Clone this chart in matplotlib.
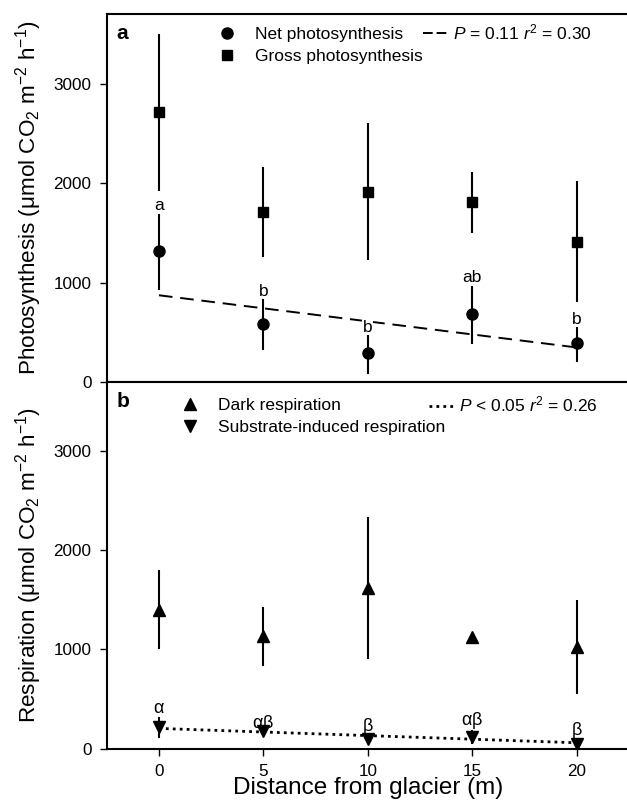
import matplotlib
matplotlib.use("Agg")
from matplotlib import pyplot as plt
from matplotlib.lines import Line2D
import numpy as np

plt.rcParams['font.family'] = ['Liberation Sans', 'DejaVu Sans']
plt.rcParams['mathtext.fontset'] = 'custom'
plt.rcParams['mathtext.rm'] = 'Liberation Sans'
plt.rcParams['mathtext.it'] = 'Liberation Sans:italic'
plt.rcParams['mathtext.default'] = 'regular'

# distance from glacier (m)
dist = [0, 5, 10, 15, 20]

# panel a: photosynthesis
net_ps = [1316, 586, 296, 684, 397]
net_ps_err = [390, 260, 215, 300, 195]
gross_ps = [2710, 1710, 1912, 1805, 1411]
gross_ps_err = [785, 450, 690, 303, 608]
net_letters = ['a', 'b', 'b', 'ab', 'b']
net_letter_y = [1770, 912, 552, 1047, 633]
ps_fit_x = [0, 20]
ps_fit_y = [872, 347]

# panel b: respiration
dark_resp = [1402, 1133, 1623, 1126, 1025]
dark_resp_err = [400, 300, 715, 30, 470]
sir = [213, 180, 92, 119, 45]
sir_err = [110, 40, 20, 70, 20]
sir_letters = [r'$\alpha$', r'$\alpha\beta$', r'$\beta$', r'$\alpha\beta$', r'$\beta$']
sir_letter_y = [405, 254, 220, 287, 179]
resp_fit_x = [0, 20]
resp_fit_y = [203, 58]

fig = plt.figure(figsize=(6.27, 8.10), dpi=100)
ax1 = fig.add_axes([0.1702, 0.5284, 0.833, 0.4543])
ax2 = fig.add_axes([0.1702, 0.0759, 0.833, 0.4525])

eb = dict(color='black', ecolor='black', elinewidth=1.5, capsize=0, linestyle='none')

# ---- panel a ----
ax1.plot(ps_fit_x, ps_fit_y, color='black', lw=1.4, dashes=(7, 4))
ax1.errorbar(dist, gross_ps, yerr=gross_ps_err, marker='s', ms=7, **eb)
ax1.errorbar(dist, net_ps, yerr=net_ps_err, marker='o', ms=8, **eb)
for x, y, t in zip(dist, net_letter_y, net_letters):
    ax1.text(x, y, t, ha='center', va='center', fontsize=12.5,
             bbox=dict(facecolor='white', edgecolor='none', pad=0.5))

# ---- panel b ----
ax2.plot(resp_fit_x, resp_fit_y, color='black', lw=2, linestyle=(0, (1, 1.5)))
ax2.errorbar(dist, dark_resp, yerr=dark_resp_err, marker='^', ms=8.5, **eb)
ax2.errorbar(dist, sir, yerr=sir_err, marker='v', ms=8.5, **eb)
for x, y, t in zip(dist, sir_letter_y, sir_letters):
    ax2.text(x, y, t, ha='center', va='center', fontsize=13,
             math_fontfamily='stix')

for ax in (ax1, ax2):
    ax.set_xlim(-2.5, 22.5)
    ax.set_ylim(0, 3700)
    ax.set_yticks([0, 1000, 2000, 3000])
    ax.tick_params(axis='both', direction='out', length=5, width=1, labelsize=12.3)
    ax.tick_params(axis='y', pad=6)
    for s in ax.spines.values():
        s.set_linewidth(1.5)

ax1.set_xticks([])
ax2.set_xticks(dist)
ax2.tick_params(axis='x', pad=6)

ax1.set_ylabel(r'Photosynthesis ($\mu$mol CO$_2$ m$^{-2}$ h$^{-1}$)', fontsize=16.2)
ax2.set_ylabel(r'Respiration ($\mu$mol CO$_2$ m$^{-2}$ h$^{-1}$)', fontsize=16.2)
ax1.yaxis.set_label_coords(-0.12, 0.5)
ax2.yaxis.set_label_coords(-0.12, 0.5)
ax2.set_xlabel('Distance from glacier (m)', fontsize=17.5, labelpad=-1)

ax1.text(0.018, 0.948, 'a', transform=ax1.transAxes, fontsize=15, fontweight='bold', va='center')
ax2.text(0.018, 0.948, 'b', transform=ax2.transAxes, fontsize=15, fontweight='bold', va='center')

# legends
h_net = Line2D([], [], color='black', marker='o', ms=8, linestyle='none')
h_gross = Line2D([], [], color='black', marker='s', ms=7, linestyle='none')
leg1 = ax1.legend([h_net, h_gross], ['Net photosynthesis', 'Gross photosynthesis'],
                  loc='upper left', bbox_to_anchor=(0.20, 0.985), frameon=False,
                  fontsize=12.5, handlelength=1.0, handletextpad=1.1, labelspacing=0.4,
                  borderaxespad=0)
ax1.add_artist(leg1)
h_dash = Line2D([], [], color='black', lw=1.4, dashes=(5, 2))
ax1.legend([h_dash], [r'$\mathit{P}$ = 0.11 $\mathit{r}^2$ = 0.30'], loc='upper left',
           bbox_to_anchor=(0.592, 0.996), frameon=False, fontsize=12.5,
           handlelength=1.4, handletextpad=0.35, borderaxespad=0)

h_up = Line2D([], [], color='black', marker='^', ms=8.5, linestyle='none')
h_down = Line2D([], [], color='black', marker='v', ms=8.5, linestyle='none')
leg2 = ax2.legend([h_up, h_down], ['Dark respiration', 'Substrate-induced respiration'],
                  loc='upper left', bbox_to_anchor=(0.13, 0.976), frameon=False,
                  fontsize=12.5, handlelength=1.0, handletextpad=1.1, labelspacing=0.4,
                  borderaxespad=0)
ax2.add_artist(leg2)
h_dot = Line2D([], [], color='black', lw=2, linestyle=(0, (1, 1.5)))
ax2.legend([h_dot], [r'$\mathit{P}$ < 0.05 $\mathit{r}^2$ = 0.26'], loc='upper left',
           bbox_to_anchor=(0.603, 0.984), frameon=False, fontsize=12.5,
           handlelength=1.4, handletextpad=0.35, borderaxespad=0)

fig.savefig('out.png', dpi=100)
